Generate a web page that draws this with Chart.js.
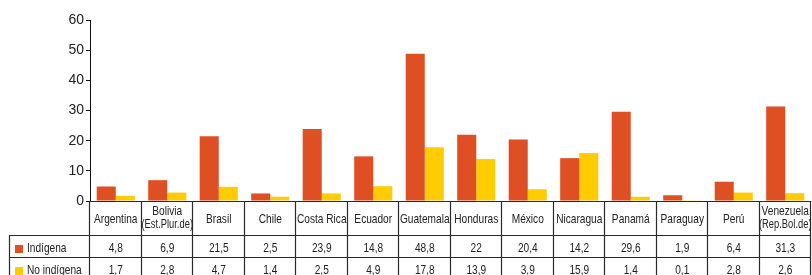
<!DOCTYPE html>
<html>
<head>
<meta charset="utf-8">
<script src="https://cdn.jsdelivr.net/npm/chart.js@4.4.1/dist/chart.umd.min.js"></script>
<style>
  html, body { margin: 0; padding: 0; background: #fff; }
  #wrap { width: 812px; height: 275px; position: relative; }
</style>
</head>
<body>
<div id="wrap"><canvas id="chart" width="812" height="275"></canvas></div>
<script>
const countries = ['Argentina', ['Bolivia', '(Est.Plur.de)'], 'Brasil', 'Chile', 'Costa Rica', 'Ecuador', 'Guatemala',
  'Honduras', 'México', 'Nicaragua', 'Panamá', 'Paraguay', 'Perú', ['Venezuela', '(Rep.Bol.de)']];
const indigena = [4.8, 6.9, 21.5, 2.5, 23.9, 14.8, 48.8, 22, 20.4, 14.2, 29.6, 1.9, 6.4, 31.3];
const noIndigena = [1.7, 2.8, 4.7, 1.4, 2.5, 4.9, 17.8, 13.9, 3.9, 15.9, 1.4, 0.1, 2.8, 2.6];
const seriesNames = ['Indígena', 'No indígena'];
const yTicks = [0, 10, 20, 30, 40, 50, 60];

const RED = '#de4f24';
const YELLOW = '#ffcc00';
const FONT = '"Liberation Sans", Arial, sans-serif';
const SQUEEZE = 0.78; // fake a narrow typeface

function fmt(v) { return String(v).replace('.', ','); }

// draw text squeezed horizontally around its anchor
function narrowText(ctx, txt, x, y, size) {
  ctx.save();
  ctx.font = size + 'px ' + FONT;
  ctx.translate(x, y);
  ctx.scale(SQUEEZE, 1);
  ctx.fillText(txt, 0, 0);
  ctx.restore();
}

// data table under the plot
const tablePlugin = {
  id: 'dataTable',
  afterDraw(chart) {
    const ctx = chart.ctx;
    const x = chart.scales.x;
    const area = chart.chartArea;
    const top = area.bottom;
    const row1 = top + 34, row2 = row1 + 22, bottom = chart.height + 2;
    const left = 9;
    const step = (area.right - area.left) / countries.length;
    ctx.save();
    ctx.strokeStyle = '#2a2a2a';
    ctx.lineWidth = 1.2;
    ctx.beginPath();
    ctx.moveTo(area.left, top + 0.5); ctx.lineTo(area.right, top + 0.5);
    ctx.moveTo(left, row1 + 0.5); ctx.lineTo(area.right, row1 + 0.5);
    ctx.moveTo(left, row2 + 0.5); ctx.lineTo(area.right, row2 + 0.5);
    ctx.moveTo(left + 0.5, row1); ctx.lineTo(left + 0.5, bottom);
    for (let i = 0; i <= countries.length; i++) {
      const px = Math.round(area.left + i * step) - 0.5;
      ctx.moveTo(px, top); ctx.lineTo(px, bottom);
    }
    ctx.stroke();

    ctx.fillStyle = '#222';
    ctx.textAlign = 'center';
    ctx.textBaseline = 'middle';
    countries.forEach((c, i) => {
      const cx = x.getPixelForValue(i);
      if (Array.isArray(c)) {
        narrowText(ctx, c[0], cx, top + 10, 13);
        narrowText(ctx, c[1], cx, top + 24, 12);
      } else {
        narrowText(ctx, c, cx, top + 18.5, 13);
      }
      narrowText(ctx, fmt(indigena[i]), cx, row1 + 13.5, 13);
      narrowText(ctx, fmt(noIndigena[i]), cx, row2 + 13, 13);
    });

    ctx.textAlign = 'left';
    ctx.fillStyle = RED;
    ctx.fillRect(15, row1 + 10, 8, 8);
    ctx.fillStyle = YELLOW;
    ctx.fillRect(15, row2 + 10, 8, 8);
    ctx.fillStyle = '#222';
    narrowText(ctx, seriesNames[0], 27, row1 + 13.5, 13);
    narrowText(ctx, seriesNames[1], 27, row2 + 13, 13);
    ctx.restore();
  }
};

new Chart(document.getElementById('chart'), {
  type: 'bar',
  data: {
    labels: countries,
    datasets: [
      { label: seriesNames[0], data: indigena, backgroundColor: RED },
      { label: seriesNames[1], data: noIndigena, backgroundColor: YELLOW }
    ]
  },
  options: {
    responsive: false,
    animation: false,
    layout: { padding: { top: 20, left: 0, right: 1, bottom: 74 } },
    datasets: { bar: { categoryPercentage: 0.74, barPercentage: 1 } },
    plugins: { legend: { display: false }, tooltip: { enabled: false } },
    scales: {
      x: { display: false, offset: true },
      y: {
        min: 0, max: 60,
        afterBuildTicks(s) { s.ticks = yTicks.map(v => ({ value: v })); },
        afterFit(s) { s.width = 90; },
        grid: { drawOnChartArea: false, drawTicks: true, tickLength: 4, color: '#111' },
        border: { display: true, color: '#111', width: 1 },
        ticks: { color: '#222', padding: 2, font: { family: 'Liberation Sans, Arial, sans-serif', size: 14 } }
      }
    }
  },
  plugins: [tablePlugin]
});
</script>
</body>
</html>
